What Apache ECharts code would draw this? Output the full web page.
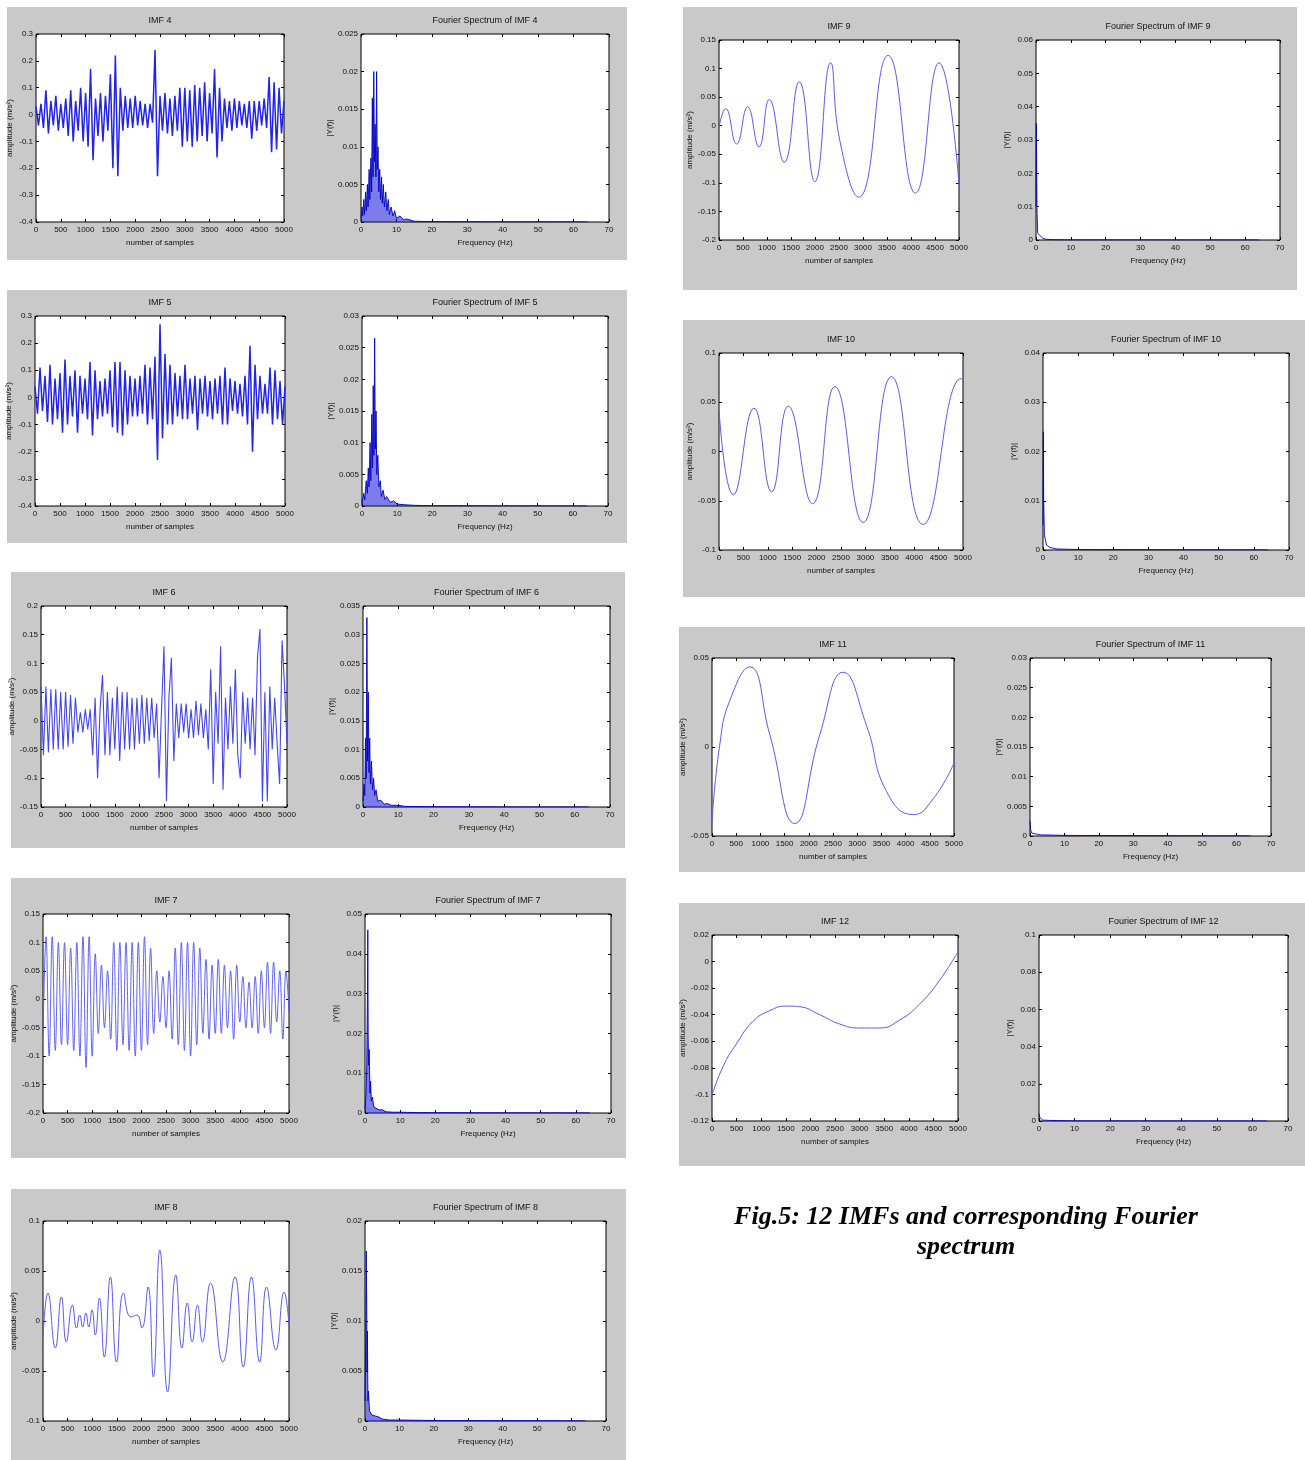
<!DOCTYPE html>
<html><head><meta charset="utf-8">
<script src="https://cdn.jsdelivr.net/npm/echarts@6/dist/echarts.min.js"></script>
<style>html,body{margin:0;padding:0;background:#fff}#c{width:1305px;height:1460px}</style>
</head><body><div id="c"></div>
<script>
// ---------------- DATA ----------------
// Dense IMFs: values at equally spaced samples over 0..5000
const imf4 = [0.03,-0.04,0.04,-0.05,0.09,-0.07,0.05,-0.04,0.07,-0.06,
  0.04,-0.05,0.06,-0.08,0.09,-0.1,0.05,-0.06,0.1,-0.1,
  0.08,-0.12,0.17,-0.17,0.06,-0.08,0.08,-0.1,0.07,-0.06,
  0.15,-0.2,0.22,-0.23,0.1,-0.06,0.07,-0.05,0.06,-0.05,
  0.07,-0.04,0.05,-0.04,0.04,-0.05,0.04,-0.03,0.24,-0.23,
  0.07,-0.06,0.08,-0.07,0.06,-0.08,0.07,-0.06,0.1,-0.12,
  0.1,-0.1,0.09,-0.12,0.11,-0.1,0.1,-0.08,0.12,-0.1,
  0.08,-0.07,0.17,-0.16,0.1,-0.1,0.06,-0.05,0.05,-0.06,
  0.06,-0.05,0.05,-0.04,0.04,-0.05,0.05,-0.09,0.05,-0.06,
  0.05,-0.04,0.06,-0.05,0.14,-0.14,0.12,-0.13,0.1,-0.07,
  0.05];
const imf5 = [0.04,-0.06,0.11,-0.05,0.08,-0.09,0.12,-0.1,0.07,-0.08,
  0.09,-0.13,0.14,-0.1,0.08,-0.07,0.1,-0.13,0.08,-0.06,
  0.07,-0.08,0.13,-0.14,0.1,-0.08,0.06,-0.07,0.07,-0.06,
  0.1,-0.11,0.13,-0.13,0.13,-0.14,0.1,-0.1,0.08,-0.07,
  0.07,-0.07,0.08,-0.06,0.12,-0.1,0.11,-0.08,0.15,-0.23,
  0.27,-0.15,0.16,-0.1,0.12,-0.1,0.09,-0.07,0.08,-0.08,
  0.12,-0.08,0.07,-0.06,0.08,-0.12,0.07,-0.06,0.08,-0.07,
  0.06,-0.08,0.07,-0.06,0.08,-0.1,0.11,-0.1,0.07,-0.05,
  0.06,-0.06,0.05,-0.07,0.08,-0.1,0.19,-0.2,0.12,-0.08,
  0.08,-0.06,0.05,-0.06,0.11,-0.1,0.1,-0.08,0.06,-0.1,
  0.04];
const imf6 = [0.06,-0.06,0.06,-0.055,0.055,-0.05,0.055,-0.05,0.05,-0.05,
  0.05,-0.045,0.045,-0.04,0.04,-0.02,0.015,-0.02,0.02,-0.015,
  0.02,-0.06,0.04,-0.1,0.02,0.08,-0.06,0.05,-0.06,0.04,
  -0.05,0.06,-0.07,0.05,-0.05,0.05,-0.05,0.04,-0.05,0.04,
  -0.04,0.045,-0.04,0.04,-0.035,0.04,-0.03,0.03,-0.1,0.02,
  0.13,-0.14,0.04,0.11,-0.07,0.03,-0.03,0.03,-0.02,0.03,
  -0.03,0.02,-0.03,0.035,-0.025,0.03,-0.03,0.02,-0.05,0.09,
  -0.11,0.05,-0.04,0.13,-0.12,0.04,-0.05,0.06,-0.04,0.09,
  -0.06,-0.1,0.05,-0.04,0.04,-0.05,0.04,-0.06,0.11,0.16,
  -0.14,0.05,-0.14,0.06,-0.05,0.04,-0.04,-0.11,0.14,0.06,
  -0.04];
const imf7 = [-0.06,0.11,-0.1,0.11,-0.09,0.1,-0.08,0.1,-0.08,0.09,
  -0.09,0.1,-0.1,0.11,-0.12,0.11,-0.1,0.08,-0.06,0.06,
  -0.05,0.05,-0.07,0.1,-0.09,0.1,-0.08,0.1,-0.09,0.1,
  -0.1,0.1,-0.09,0.11,-0.08,0.09,-0.06,0.05,-0.04,0.04,
  -0.05,0.05,-0.07,0.09,-0.08,0.1,-0.09,0.1,-0.1,0.1,
  -0.08,0.09,-0.06,0.07,-0.07,0.06,-0.06,0.07,-0.06,0.06,
  -0.05,0.05,-0.07,0.06,-0.04,0.04,-0.05,0.03,-0.05,0.04,
  -0.06,0.05,-0.05,0.065,-0.06,0.065,-0.04,0.05,-0.07,0.05,
  -0.02];
// Smooth IMFs: sample positions and values of extremes / crossings
const imf8Samples = [0,100,250,374,473,598,681,748,806,872,930,997,1063,1146,1246,1370,1495,1636,1786,1910,2010,2135,2243,2375,2533,2699,2824,2932,3032,3140,3239,3405,3654,3904,4070,4236,4402,4543,4734,4900,5000];
const imf8Values  = [-0.017,0.028,-0.027,0.024,-0.021,0.016,-0.007,0.006,-0.006,0.008,-0.006,0.011,-0.014,0.023,-0.036,0.044,-0.041,0.028,0.004,0.006,-0.007,0.034,-0.056,0.071,-0.071,0.046,-0.027,0.018,-0.021,0.016,-0.021,0.038,-0.041,0.044,-0.046,0.044,-0.041,0.034,-0.029,0.029,-0.004];
const imf9Samples = [0,139,367,596,832,1047,1359,1671,1997,2323,2517,2912,3523,4092,4584,5000];
const imf9Values  = [-0.002,0.03,-0.032,0.033,-0.037,0.046,-0.064,0.077,-0.098,0.11,-0.026,-0.125,0.123,-0.118,0.11,-0.102];
const imf10Samples = [0,293,716,1078,1419,1917,2374,2954,3534,4181,4966,5000];
const imf10Values  = [0.042,-0.044,0.044,-0.041,0.046,-0.053,0.066,-0.072,0.076,-0.074,0.074,0.072];
const imf11Samples = [0,159,366,779,1193,1710,2228,2710,3193,3607,4159,4572,5000];
const imf11Values  = [-0.042,0.001,0.026,0.045,0.007,-0.043,0.007,0.042,0.012,-0.025,-0.038,-0.029,-0.009];
const imf12Samples = [0,224,495,833,1172,1511,1782,2188,2595,3001,3408,3814,4221,4627,5000];
const imf12Values  = [-0.1007,-0.079,-0.062,-0.045,-0.037,-0.0335,-0.034,-0.040,-0.047,-0.050,-0.050,-0.044,-0.032,-0.014,0.0075];
// Fourier spectra: frequency (Hz) and |Y(f)|
const spec4F = [0,0.3,0.5,0.8,1.0,1.3,1.5,1.8,2.0,2.3,2.5,2.8,3.0,3.2,3.4,3.6,3.8,4.0,4.2,4.4,4.6,4.8,5.0,5.3,5.5,5.8,6.0,6.3,6.6,7.0,7.3,7.7,8.0,8.5,9,9.5,10,11,12,13,15,20,30,40,50,64];
const spec4A = [0.0005,0.002,0.0008,0.003,0.001,0.004,0.0015,0.005,0.002,0.007,0.003,0.0085,0.004,0.0165,0.006,0.02,0.008,0.013,0.006,0.02,0.007,0.01,0.004,0.007,0.003,0.006,0.0025,0.005,0.002,0.004,0.0015,0.003,0.001,0.002,0.0008,0.0015,0.0005,0.0008,0.0003,0.0004,0.0001,0.00005,0.00003,0.00002,0.00002,0.00001];
const spec5F = [0,0.5,0.8,1.2,1.5,1.8,2.0,2.3,2.5,2.8,3.0,3.2,3.4,3.6,3.8,4.0,4.2,4.5,4.8,5.2,5.5,6,6.5,7,8,9,10,12,15,20,40,64];
const spec5A = [0.0005,0.002,0.001,0.004,0.002,0.006,0.003,0.01,0.004,0.0145,0.006,0.019,0.008,0.0265,0.009,0.015,0.005,0.008,0.003,0.004,0.0015,0.0025,0.001,0.0015,0.0006,0.0008,0.0003,0.0002,0.0001,0.00005,0.00002,0.00001];
const spec6F = [0,0.3,0.5,0.7,0.9,1.1,1.3,1.5,1.7,1.9,2.1,2.4,2.7,3.0,3.3,3.7,4.2,5,6,7,8,10,12,20,40,64];
const spec6A = [0.001,0.004,0.002,0.012,0.005,0.033,0.008,0.02,0.006,0.012,0.004,0.008,0.003,0.005,0.002,0.003,0.001,0.0012,0.0005,0.0006,0.0003,0.0003,0.0001,0.00005,0.00002,0.00001];
const spec7F = [0,0.3,0.5,0.7,0.8,0.9,1.0,1.2,1.4,1.6,1.8,2.1,2.5,3,4,5,6,8,10,15,30,64];
const spec7A = [0.001,0.005,0.012,0.03,0.046,0.02,0.012,0.016,0.005,0.008,0.003,0.004,0.0015,0.0012,0.0008,0.0008,0.0003,0.0002,0.0002,0.0001,0.00005,0.00002];
const spec8F = [0,0.2,0.35,0.5,0.6,0.7,0.85,1.0,1.3,1.6,2,3,4,5,7,10,20,64];
const spec8A = [0.002,0.008,0.017,0.012,0.005,0.009,0.002,0.003,0.001,0.0012,0.0006,0.0005,0.0004,0.0002,0.0001,0.0001,0.00005,0.00002];
const spec9F = [0,0.1,0.2,0.3,0.5,1,2,3,5,10,64];
const spec9A = [0.01,0.035,0.02,0.008,0.002,0.0015,0.0005,0.0002,0.0001,0.00005,0.00001];
const spec10F = [0,0.1,0.2,0.4,0.7,1,2,4,10,64];
const spec10A = [0.005,0.024,0.01,0.003,0.002,0.001,0.0005,0.0002,0.0001,0.00002];
const spec11F = [0,0.2,0.5,1,3,10,64];
const spec11A = [0.0025,0.001,0.0005,0.0003,0.0002,0.0001,0.00002];
const spec12F = [0,0.2,0.5,1,3,10,64];
const spec12A = [0.004,0.002,0.001,0.0005,0.0003,0.0001,0.00002];
// axis ranges [min, max, interval]
const sampleRange = [0, 5000, 500];
const freqRange = [0, 70, 10];
const timeYRanges = {4:[-0.4,0.3,0.1],5:[-0.4,0.3,0.1],6:[-0.15,0.2,0.05],7:[-0.2,0.15,0.05],8:[-0.1,0.1,0.05],9:[-0.2,0.15,0.05],10:[-0.1,0.1,0.05],11:[-0.05,0.05,0.05],12:[-0.12,0.02,0.02]};
const specYRanges = {4:[0,0.025,0.005],5:[0,0.03,0.005],6:[0,0.035,0.005],7:[0,0.05,0.01],8:[0,0.02,0.005],9:[0,0.06,0.01],10:[0,0.04,0.01],11:[0,0.03,0.005],12:[0,0.1,0.02]};
const captionLines = ['Fig.5: 12 IMFs and corresponding Fourier', 'spectrum'];

// ---------------- BUILD ----------------
function uniform(vals){ const st = 5000/(vals.length-1); return vals.map((v,i)=>[i*st, v]); }
function zip(a,b){ const n=Math.min(a.length,b.length); const o=[]; for(let i=0;i<n;i++) o.push([a[i],b[i]]); return o; }

const signals = {
  4:{data:uniform(imf4), kind:'dense'}, 5:{data:uniform(imf5), kind:'dense'},
  6:{data:uniform(imf6), kind:'dense6'}, 7:{data:uniform(imf7), kind:'wave'},
  8:{data:zip(imf8Samples,imf8Values), kind:'smooth'}, 9:{data:zip(imf9Samples,imf9Values), kind:'smooth'},
  10:{data:zip(imf10Samples,imf10Values), kind:'smooth'}, 11:{data:zip(imf11Samples,imf11Values), kind:'smooth'},
  12:{data:zip(imf12Samples,imf12Values), kind:'smooth'}
};
const spectra = {4:zip(spec4F,spec4A),5:zip(spec5F,spec5A),6:zip(spec6F,spec6A),7:zip(spec7F,spec7A),8:zip(spec8F,spec8A),9:zip(spec9F,spec9A),10:zip(spec10F,spec10A),11:zip(spec11F,spec11A),12:zip(spec12F,spec12A)};

const layout = [
 {id:4, box:[7,7,620,253], t:[36,34,248,188], s:[361,34,248,188]},
 {id:5, box:[7,290,620,253], t:[35,316,250,190], s:[362,316,246,190]},
 {id:6, box:[11,572,614,276], t:[41,606,246,201], s:[363,606,247,201]},
 {id:7, box:[11,878,615,280], t:[43,914,246,199], s:[365,914,246,199]},
 {id:8, box:[11,1189,615,271], t:[43,1221,246,200], s:[365,1221,241,200]},
 {id:9, box:[683,7,614,283], t:[719,40,240,200], s:[1036,40,244,200]},
 {id:10, box:[683,320,622,277], t:[719,353,244,197], s:[1043,353,246,197]},
 {id:11, box:[679,627,626,245], t:[712,658,242,178], s:[1030,658,241,178]},
 {id:12, box:[679,903,626,263], t:[712,935,246,186], s:[1039,935,249,186]}
];

const FONT = '"Liberation Sans", Arial, sans-serif';
const fmt = v => String(Math.round(v*1e6)/1e6);
const grids=[], xAxes=[], yAxes=[], series=[], graphics=[];
const tick = {show:true, inside:true, length:3, lineStyle:{color:'#000', width:1}};
const lblStyle = {fontSize:8, color:'#111', fontFamily:FONT};

function addPlot(r, title, xr, yr, xName, yName, yGap, sCfg){
  const g = grids.length;
  grids.push({left:r[0], top:r[1], width:r[2], height:r[3], show:true, backgroundColor:'#fff', borderColor:'#000', borderWidth:1});
  const base = {type:'value', gridIndex:g, splitLine:{show:false}, axisLine:{show:false, onZero:false}, axisTick:tick};
  xAxes.push(Object.assign({}, base, {position:'bottom', min:xr[0], max:xr[1], interval:xr[2],
    axisLabel:Object.assign({margin:4, formatter:fmt}, lblStyle),
    name:xName, nameLocation:'middle', nameGap:17, nameTextStyle:lblStyle}));
  xAxes.push(Object.assign({}, base, {position:'top', min:xr[0], max:xr[1], interval:xr[2], axisLabel:{show:false}}));
  yAxes.push(Object.assign({}, base, {position:'left', min:yr[0], max:yr[1], interval:yr[2],
    axisLabel:Object.assign({margin:3, formatter:fmt}, lblStyle),
    name:yName, nameLocation:'middle', nameGap:yGap, nameTextStyle:lblStyle}));
  yAxes.push(Object.assign({}, base, {position:'right', min:yr[0], max:yr[1], interval:yr[2], axisLabel:{show:false}}));
  series.push(Object.assign({type:'line', xAxisIndex:2*g, yAxisIndex:2*g, showSymbol:false, symbol:'none', animation:false, z:3}, sCfg));
  graphics.push({type:'text', x:r[0]+r[2]/2, y:r[1]-13, z:10,
    style:{text:title, fill:'#111', font:'9px '+FONT, align:'center', verticalAlign:'middle', textAlign:'center', textVerticalAlign:'middle'}});
}

layout.forEach(p => {
  graphics.push({type:'rect', z:-1, shape:{x:p.box[0], y:p.box[1], width:p.box[2], height:p.box[3]}, style:{fill:'#c9c9c9'}});
  const sig = signals[p.id];
  let cfg;
  if (sig.kind==='dense') cfg = {data:sig.data, lineStyle:{color:'#2323ea', width:1.5}};
  else if (sig.kind==='dense6') cfg = {data:sig.data, lineStyle:{color:'#4545ee', width:1.1}};
  else if (sig.kind==='wave') cfg = {data:sig.data, smooth:0.4, lineStyle:{color:'#5050ee', width:0.9}};
  else cfg = {data:sig.data, smooth:0.5, lineStyle:{color:'#5a5aee', width:1}};
  addPlot(p.t, 'IMF '+p.id, sampleRange, timeYRanges[p.id], 'number of samples', 'amplitude (m/s\u00b2)', 22, cfg);
  const sc = {data:spectra[p.id], lineStyle:{color:'#0000c0', width:0.9}};
  if (p.id<=8) sc.areaStyle = {color:'#1010d8', opacity:0.55};
  addPlot(p.s, 'Fourier Spectrum of IMF '+p.id, freqRange, specYRanges[p.id], 'Frequency (Hz)', '|Y(f)|', 25, sc);
});

captionLines.forEach((t,i)=>{
  graphics.push({type:'text', x:966, y:1217+i*30, z:10,
    style:{text:t, fill:'#000', font:'italic bold 26px "Liberation Serif", "Times New Roman", serif', align:'center', verticalAlign:'middle', textAlign:'center', textVerticalAlign:'middle'}});
});

const chart = echarts.init(document.getElementById('c'), null, {renderer:'canvas', width:1305, height:1460});
chart.setOption({animation:false, backgroundColor:'#fff', grid:grids, xAxis:xAxes, yAxis:yAxes, series:series, graphic:{elements:graphics}});
</script></body></html>
